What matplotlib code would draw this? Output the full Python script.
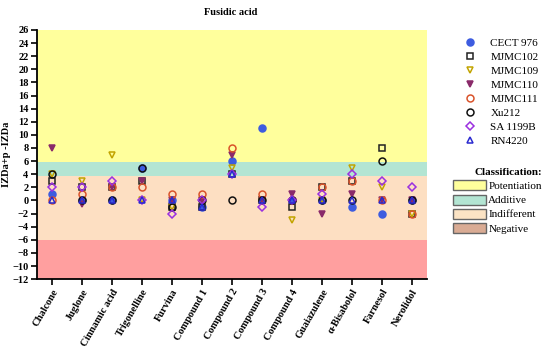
import numpy as np
import matplotlib.pyplot as plt
from matplotlib.patches import Patch

plt.rcParams['font.family'] = ['Liberation Serif', 'DejaVu Serif']

# compounds on the x axis
compounds = ["Chalcone", "Juglone", "Cinnamic acid", "Trigonelline", "Furvina",
             "Compound 1", "Compound 2", "Compound 3", "Compound 4", "Guaiazulene",
             "\u03b1-Bisabolol", "Farnesol", "Nerolidol"]

# IZDa+p - IZDa per strain
cect976 = [1, 0, 0, 5, 0, -1, 6, 11, 0, 0, -1, -2, 0]
mjmc102 = [3, 2, 2, 3, -1, -1, 4, 0, -1, 2, 3, 8, -2]
mjmc109 = [4, 3, 7, 0, -1, 0, 5, 0, -3, 0, 5, 2, -2]
mjmc110 = [8, -0.5, 2, 3, 0, 0, 7, 0, 1, -2, 1, 0, 0]
mjmc111 = [0, 1, 2, 2, 1, 1, 8, 1, 0, 2, 3, 0, -2]
xu212 = [4, 0, 0, 5, -1, 0, 0, 0, 0, 0, 0, 6, 0]
sa1199b = [2, 2, 3, 0, -2, 0, 4, -1, 0, 1, 4, 3, 2]
rn4220 = [0, 0, 0, 0, 0, -1, 4, 0, 0, 0, 0, 0, 0]

strains = ["CECT 976", "MJMC102", "MJMC109", "MJMC110", "MJMC111", "Xu212", "SA 1199B", "RN4220"]
values = [cect976, mjmc102, mjmc109, mjmc110, mjmc111, xu212, sa1199b, rn4220]

# marker, face, edge
styles = [("o", "#3d5ce0", "#3d5ce0"),
          ("s", "none", "#222222"),
          ("v", "none", "#c2a400"),
          ("v", "#8a2a6a", "#8a2a6a"),
          ("o", "none", "#d9532b"),
          ("o", "none", "#111111"),
          ("D", "none", "#9b30e0"),
          ("^", "none", "#2a2ad0")]

# classification bands: name, low, high, band colour, legend colour
bands = [("Potentiation", 5.8, 26, "#ffff9c", "#ffff9c"),
         ("Additive", 3.8, 5.8, "#b3e5d3", "#b3e5d3"),
         ("Indifferent", -6, 3.8, "#fddfc2", "#fbe3c4"),
         ("Negative", -12, -6, "#ff9f9f", "#d9ab94")]

fs = 7.5
lfs = 8

fig = plt.figure(figsize=(5.5, 3.52), dpi=100)
ax = fig.add_axes([0.067, 0.207, 0.709, 0.708])

x = np.arange(len(compounds))
for name, lo, hi, c, lc in bands:
    ax.axhspan(lo, hi, color=c, lw=0, zorder=0)

for name, vals, (m, fc, ec) in zip(strains, values, styles):
    ms = 4 if m == "D" else 5
    ax.plot(x, vals, linestyle="none", marker=m, markersize=ms,
            markerfacecolor=fc, markeredgecolor=ec, markeredgewidth=1.1,
            label=name, zorder=3)

ax.set_xlim(-0.5, len(compounds) - 0.5)
ax.set_ylim(-12, 26)
ax.set_yticks(np.arange(-12, 27, 2))
ax.set_xticks(x)
ax.set_xticklabels(compounds, rotation=60, ha="right", rotation_mode="anchor",
                   fontsize=fs, fontweight="bold")
for lab in ax.get_yticklabels():
    lab.set_fontweight("bold")
    lab.set_fontsize(fs)
ax.tick_params(axis="both", length=4, width=1.2, pad=2)
ax.spines["top"].set_visible(False)
ax.spines["right"].set_visible(False)
ax.spines["left"].set_linewidth(1.3)
ax.spines["bottom"].set_linewidth(1.3)

ax.set_ylabel("IZDa+p -IZDa", fontsize=fs, fontweight="bold")
ax.yaxis.set_label_coords(-0.066, 0.5)
fig.text(0.42, 0.965, "Fusidic acid", ha="center", va="center",
         fontsize=fs, fontweight="bold")

leg1 = fig.legend(loc="upper left", bbox_to_anchor=(0.835, 0.905), frameon=False,
                  fontsize=lfs, handletextpad=1.2, labelspacing=0.38,
                  handlelength=1.2, borderaxespad=0)

patches = [Patch(facecolor=lc, edgecolor="#666666", label=name)
           for name, lo, hi, c, lc in bands]
leg2 = fig.legend(handles=patches, loc="upper left", bbox_to_anchor=(0.815, 0.535),
                  frameon=False, fontsize=lfs, title="Classification:",
                  title_fontproperties={"weight": "bold", "size": lfs},
                  handlelength=3.0, handleheight=1.0, handletextpad=0.2,
                  labelspacing=0.3, alignment="right", borderaxespad=0)

fig.savefig("out.png", dpi=100)
